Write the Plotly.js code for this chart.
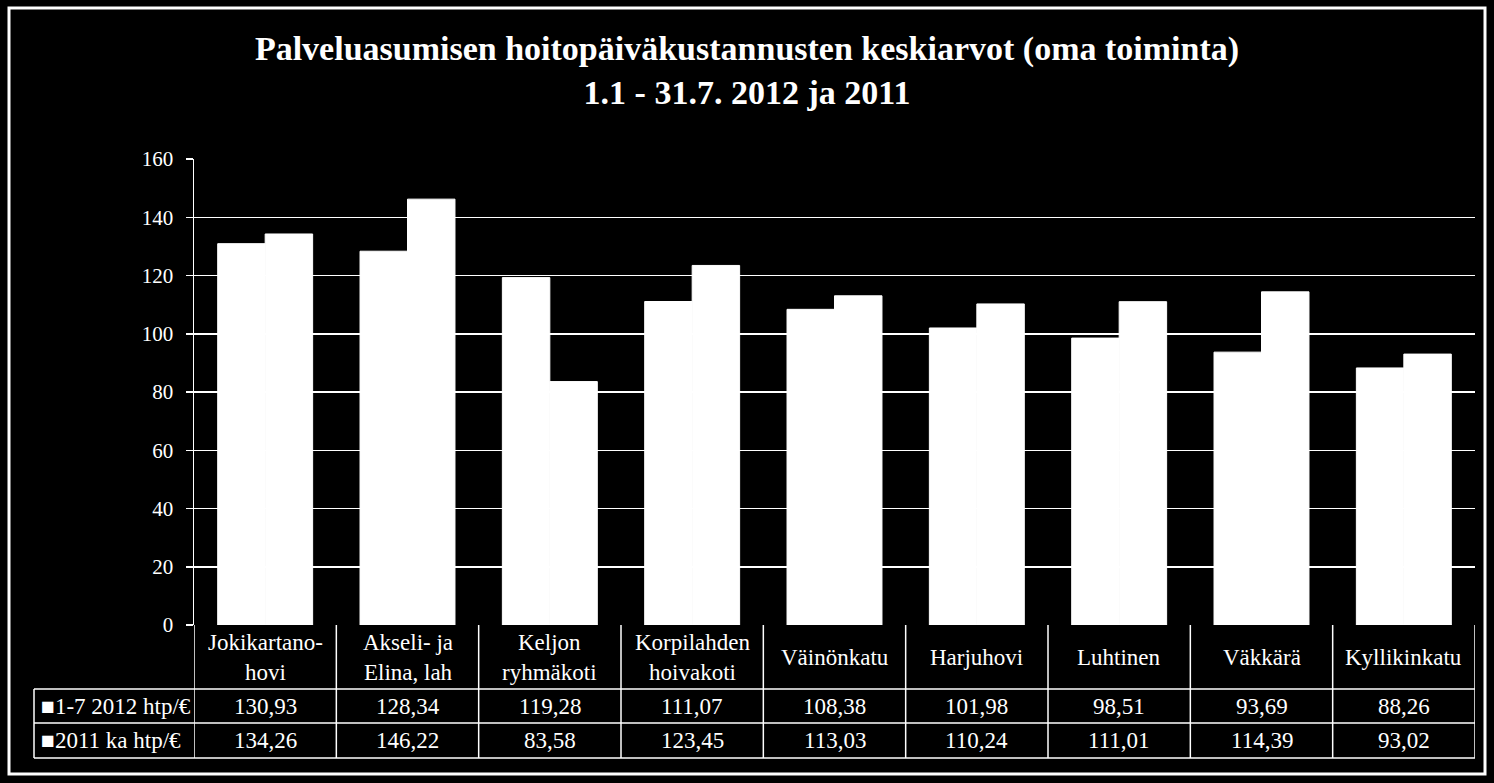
<!DOCTYPE html>
<html>
<head>
<meta charset="utf-8">
<script src="https://cdn.plot.ly/plotly-3.0.1.min.js"></script>
<style>
html,body{margin:0;padding:0;background:#000;}
#chart{width:1494px;height:783px;}
</style>
</head>
<body>
<div id="chart"></div>
<script>
const categories = ["Jokikartano-<br>hovi", "Akseli- ja<br>Elina, lah", "Keljon<br>ryhmäkoti", "Korpilahden<br>hoivakoti", "Väinönkatu", "Harjuhovi", "Luhtinen", "Väkkärä", "Kyllikinkatu"];
const seriesNames = ["1-7 2012 htp/€", "2011 ka htp/€"];
const values2012 = [130.93, 128.34, 119.28, 111.07, 108.38, 101.98, 98.51, 93.69, 88.26];
const values2011 = [134.26, 146.22, 83.58, 123.45, 113.03, 110.24, 111.01, 114.39, 93.02];
const yTicks = [0, 20, 40, 60, 80, 100, 120, 140, 160];

const W = 1494, H = 783;
const PL = 194, PR = 1475, PT = 159, PB = 625;
const px = x => (x - PL) / (PR - PL);
const py = y => (PB - y) / (PB - PT);
const FONT = "Liberation Serif, Times New Roman, serif";
const fmt = v => v.toFixed(2).replace('.', ',');

const xIdx = categories.map((_, i) => i);

const traces = [
  {type: 'bar', x: xIdx, y: values2012, name: seriesNames[0], marker: {color: '#ffffff', line: {color: '#ffffff', width: 1}}, hoverinfo: 'y'},
  {type: 'bar', x: xIdx, y: values2011, name: seriesNames[1], marker: {color: '#ffffff', line: {color: '#ffffff', width: 1}}, hoverinfo: 'y'}
];

const shapes = [];
const annotations = [];
const line = {color: '#ffffff', width: 1.5};

// outer frame
shapes.push({type: 'rect', xref: 'paper', yref: 'paper', x0: px(9), x1: px(1485), y0: py(8), y1: py(774), line: {color: '#ffffff', width: 3}, fillcolor: 'rgba(0,0,0,0)', layer: 'above'});

// table horizontal lines
const rowY = [689, 723, 758];
rowY.forEach(y => shapes.push({type: 'line', xref: 'paper', yref: 'paper', x0: px(34), x1: px(PR), y0: py(y), y1: py(y), line}));
// table vertical lines at category boundaries
for (let i = 0; i <= categories.length; i++) {
  shapes.push({type: 'line', xref: 'x', yref: 'paper', x0: i - 0.5, x1: i - 0.5, y0: py(PB), y1: py(758), line});
}
// legend column left border
shapes.push({type: 'line', xref: 'paper', yref: 'paper', x0: px(34), x1: px(34), y0: py(689), y1: py(758), line});

const TF = {family: FONT, size: 23, color: '#ffffff'};
// header labels
categories.forEach((c, i) => {
  annotations.push({xref: 'x', yref: 'paper', x: i, y: py(657), text: c, showarrow: false, xanchor: 'center', yanchor: 'middle', font: TF, align: 'center'});
});
// values rows
const rows = [values2012, values2011];
const rowCenters = [706, 740.5];
rows.forEach((vals, r) => {
  annotations.push({xref: 'paper', yref: 'paper', x: px(39), y: py(rowCenters[r]), text: '■' + seriesNames[r], showarrow: false, xanchor: 'left', yanchor: 'middle', font: TF});
  vals.forEach((v, i) => {
    annotations.push({xref: 'x', yref: 'paper', x: i, y: py(rowCenters[r]), text: fmt(v), showarrow: false, xanchor: 'center', yanchor: 'middle', font: TF});
  });
});

const layout = {
  width: W, height: H,
  paper_bgcolor: '#000000', plot_bgcolor: '#000000',
  margin: {l: PL, r: W - PR, t: PT, b: H - PB},
  title: {text: '<b>Palveluasumisen hoitopäiväkustannusten keskiarvot (oma toiminta)<br>1.1 - 31.7. 2012 ja 2011</b>', x: 0.5, xanchor: 'center', xref: 'container', y: 1 - 60 / H, yanchor: 'middle', yref: 'container', font: {family: FONT, size: 34, color: '#ffffff'}},
  barmode: 'group', bargap: 0.333, bargroupgap: 0,
  showlegend: false,
  xaxis: {range: [-0.5, categories.length - 0.5], showticklabels: false, showgrid: false, zeroline: false, showline: false, ticks: '', fixedrange: true},
  yaxis: {range: [0, 160], tickvals: yTicks, ticktext: yTicks.map(String), showgrid: true, gridcolor: '#ffffff', gridwidth: 1.5, zeroline: false, showline: true, linecolor: '#ffffff', linewidth: 1.5, ticks: 'outside', ticklen: 7, tickcolor: '#ffffff', tickwidth: 1.5, ticklabelstandoff: 8, tickfont: {family: FONT, size: 21, color: '#ffffff'}, fixedrange: true},
  shapes, annotations
};

Plotly.newPlot('chart', traces, layout, {displayModeBar: false, staticPlot: true});
</script>
</body>
</html>
